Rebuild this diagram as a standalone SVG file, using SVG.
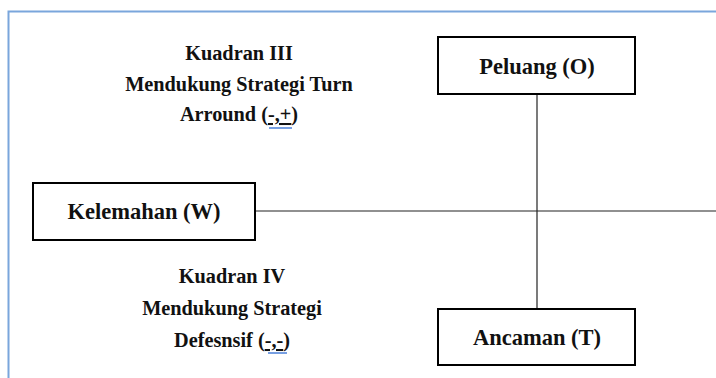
<svg xmlns="http://www.w3.org/2000/svg" width="716" height="378" viewBox="0 0 716 378">
<style>
text{font-family:"Liberation Serif","DejaVu Serif",serif;font-weight:bold;fill:#111;text-anchor:middle}
.lbl{font-size:20.3px}
.big{font-size:22.5px}
.box{fill:#fff;stroke:#000;stroke-width:2}
.ln{stroke:#222;stroke-width:1.2;fill:none}
.spell{stroke:#4a7fd8;stroke-width:1.5}
</style>
<rect width="716" height="378" fill="#fff"/>
<path d="M8.5,378 V11.5 H716" fill="none" stroke="#7aa6dc" stroke-width="2"/>
<g id="connectors">
<line class="ln" x1="537" y1="94" x2="537" y2="309"/>
<line class="ln" x1="255" y1="211" x2="716" y2="211"/>
</g>
<g id="peluang">
<rect class="box" x="438" y="37" width="197" height="57"/>
<text class="big" x="537" y="74">Peluang (O)</text>
</g>
<g id="ancaman">
<rect class="box" x="438" y="309" width="197" height="56"/>
<text class="big" x="537" y="345">Ancaman (T)</text>
</g>
<g id="kelemahan">
<rect class="box" x="33" y="183" width="222" height="57"/>
<text class="big" x="144" y="219">Kelemahan (W)</text>
</g>
<g id="kuadran3">
<text class="lbl" x="239" y="60">Kuadran III</text>
<text class="lbl" x="239" y="91">Mendukung Strategi Turn</text>
<text class="lbl" x="239" y="121">Arround (<tspan text-decoration="underline">-,+</tspan>)</text>
<line class="spell" x1="269" y1="128" x2="292" y2="128"/>
</g>
<g id="kuadran4">
<text class="lbl" x="232" y="283">Kuadran IV</text>
<text class="lbl" x="232" y="315">Mendukung Strategi</text>
<text class="lbl" x="232" y="347">Defesnsif (<tspan text-decoration="underline">-,-</tspan>)</text>
<line class="spell" x1="268" y1="353" x2="287" y2="353"/>
</g>
</svg>
